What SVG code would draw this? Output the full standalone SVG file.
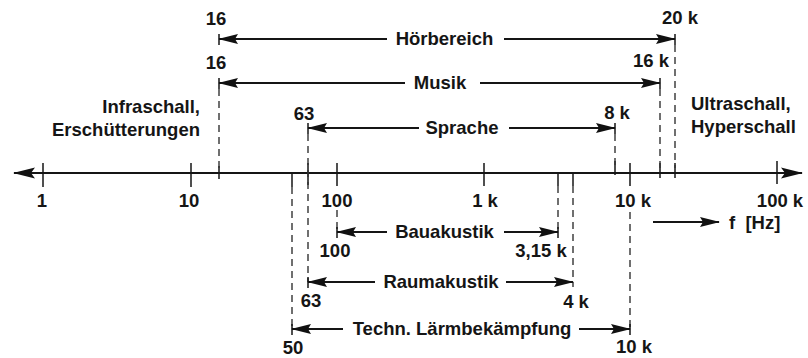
<svg xmlns="http://www.w3.org/2000/svg" width="808" height="358" viewBox="0 0 808 358">
  <defs>
    <!-- slim filled arrowhead for the range arrows -->
    <marker id="head" markerUnits="userSpaceOnUse" viewBox="0 0 20 11" refX="19" refY="5.5" markerWidth="20" markerHeight="11" orient="auto-start-reverse">
      <path d="M0,0.5 L20,5.5 L0,10.5 L3,5.5 Z" fill="#111"/>
    </marker>
    <!-- larger arrowhead for the frequency axis -->
    <marker id="axhead" markerUnits="userSpaceOnUse" viewBox="0 0 22 12" refX="21" refY="6" markerWidth="22" markerHeight="12" orient="auto-start-reverse">
      <path d="M0,0.5 L22,6 L0,11.5 L4,6 Z" fill="#111"/>
    </marker>
  </defs>
  <style>
    text { font-family: "Liberation Sans", Arial, Helvetica, sans-serif; font-weight: bold; font-size: 18.5px; fill: #151515; }
    .m { text-anchor: middle; }
    .e { text-anchor: end; }
    .arr { stroke: #151515; stroke-width: 1.9; fill: none; }
    .bar { stroke: #151515; stroke-width: 1.5; }
    .dash { stroke: #333; stroke-width: 1.4; stroke-dasharray: 7 5; fill: none; }
    .tick { stroke: #151515; stroke-width: 1.5; }
  </style>

  <rect width="808" height="358" fill="#fff"/>

  <!-- frequency axis with decade ticks (log scale, 1 Hz ... 100 kHz) -->
  <g id="axis">
    <line class="arr" x1="14" y1="173" x2="802" y2="173" stroke-width="2" marker-start="url(#axhead)" marker-end="url(#axhead)"/>
    <line class="tick" x1="43" y1="163" x2="43" y2="187"/>
    <line class="tick" x1="191" y1="163" x2="191" y2="187"/>
    <line class="tick" x1="337" y1="163" x2="337" y2="186"/>
    <line class="tick" x1="484" y1="163" x2="484" y2="186"/>
    <line class="tick" x1="630" y1="163" x2="630" y2="186"/>
    <line class="tick" x1="777" y1="161" x2="777" y2="184"/>
    <!-- short marks where the range limits meet the axis -->
    <line class="tick" x1="219" y1="166" x2="219" y2="179"/>
    <line class="tick" x1="308" y1="163" x2="308" y2="185"/>
    <line class="tick" x1="292" y1="173" x2="292" y2="187"/>
    <line class="tick" x1="558" y1="173" x2="558" y2="186"/>
    <line class="tick" x1="573" y1="173" x2="573" y2="186"/>
    <line class="tick" x1="615" y1="161" x2="615" y2="175"/>
    <line class="tick" x1="660" y1="163" x2="660" y2="178"/>
    <line class="tick" x1="675" y1="163" x2="675" y2="178"/>
    <text class="m" x="42" y="207">1</text>
    <text class="m" x="189" y="207">10</text>
    <text class="m" x="337" y="207">100</text>
    <text class="m" x="485" y="207">1 k</text>
    <text class="m" x="633" y="207">10 k</text>
    <text class="m" x="780" y="207">100 k</text>
  </g>

  <!-- dashed limit lines -->
  <g id="connectors">
    <line class="dash" x1="219" y1="89" x2="219" y2="170"/>
    <line class="dash" x1="308" y1="134" x2="308" y2="282"/>
    <line class="dash" x1="292" y1="187" x2="292" y2="329"/>
    <line class="dash" x1="337" y1="210" x2="337" y2="232"/>
    <line class="dash" x1="558" y1="186" x2="558" y2="232"/>
    <line class="dash" x1="573" y1="186" x2="573" y2="287"/>
    <line class="dash" x1="615" y1="134" x2="615" y2="165"/>
    <line class="dash" x1="660" y1="89" x2="660" y2="168"/>
    <line class="dash" x1="675" y1="45" x2="675" y2="168"/>
    <line class="dash" x1="630" y1="212" x2="630" y2="329"/>
  </g>

  <g id="hoerbereich">
    <line class="bar" x1="219" y1="34" x2="219" y2="45"/>
    <line class="bar" x1="675" y1="34" x2="675" y2="45"/>
    <line class="arr" x1="219" y1="39" x2="387" y2="39" marker-start="url(#head)"/>
    <line class="arr" x1="504" y1="39" x2="675" y2="39" marker-end="url(#head)"/>
    <text class="m" x="444.5" y="45">Hörbereich</text>
    <text class="m" x="216" y="25">16</text>
    <text class="m" x="680" y="24">20 k</text>
  </g>

  <g id="musik">
    <line class="bar" x1="219" y1="78" x2="219" y2="89"/>
    <line class="bar" x1="660" y1="78" x2="660" y2="89"/>
    <line class="arr" x1="219" y1="83" x2="405" y2="83" marker-start="url(#head)"/>
    <line class="arr" x1="480" y1="83" x2="660" y2="83" marker-end="url(#head)"/>
    <text class="m" x="440" y="89">Musik</text>
    <text class="m" x="216" y="69">16</text>
    <text class="m" x="651" y="67">16 k</text>
  </g>

  <g id="sprache">
    <line class="bar" x1="308" y1="123" x2="308" y2="134"/>
    <line class="bar" x1="615" y1="123" x2="615" y2="134"/>
    <line class="arr" x1="308" y1="128" x2="419" y2="128" marker-start="url(#head)"/>
    <line class="arr" x1="509" y1="128" x2="615" y2="128" marker-end="url(#head)"/>
    <text class="m" x="462" y="134">Sprache</text>
    <text class="m" x="304" y="120">63</text>
    <text class="m" x="617" y="119">8 k</text>
  </g>

  <g id="infraschall">
    <text class="e" x="200" y="113">Infraschall,</text>
    <text class="e" x="200" y="136">Erschütterungen</text>
  </g>

  <g id="ultraschall">
    <text x="691" y="110">Ultraschall,</text>
    <text x="691" y="133">Hyperschall</text>
  </g>

  <g id="bauakustik">
    <line class="bar" x1="337" y1="227" x2="337" y2="238"/>
    <line class="bar" x1="558" y1="227" x2="558" y2="238"/>
    <line class="arr" x1="337" y1="232" x2="387" y2="232" marker-start="url(#head)"/>
    <line class="arr" x1="504" y1="232" x2="558" y2="232" marker-end="url(#head)"/>
    <text class="m" x="444.5" y="238">Bauakustik</text>
    <text class="m" x="335" y="257">100</text>
    <text class="m" x="541" y="257">3,15 k</text>
  </g>

  <g id="raumakustik">
    <line class="bar" x1="308" y1="277" x2="308" y2="288"/>
    <line class="arr" x1="308" y1="282" x2="375" y2="282" marker-start="url(#head)"/>
    <line class="arr" x1="506" y1="282" x2="573" y2="282" marker-end="url(#head)"/>
    <text class="m" x="441" y="288">Raumakustik</text>
    <text class="m" x="311" y="307">63</text>
    <text class="m" x="576" y="308">4 k</text>
  </g>

  <g id="laermbekaempfung">
    <line class="bar" x1="292" y1="324" x2="292" y2="335"/>
    <line class="bar" x1="630" y1="324" x2="630" y2="335"/>
    <line class="arr" x1="292" y1="329" x2="343" y2="329" marker-start="url(#head)"/>
    <line class="arr" x1="579" y1="329" x2="630" y2="329" marker-end="url(#head)"/>
    <text class="m" x="462" y="335">Techn. Lärmbekämpfung</text>
    <text class="m" x="293" y="354">50</text>
    <text class="m" x="634" y="353">10 k</text>
  </g>

  <g id="frequenz">
    <line class="arr" x1="653" y1="222" x2="719" y2="222" marker-end="url(#head)"/>
    <text x="729" y="229" xml:space="preserve">f  [Hz]</text>
  </g>
</svg>
